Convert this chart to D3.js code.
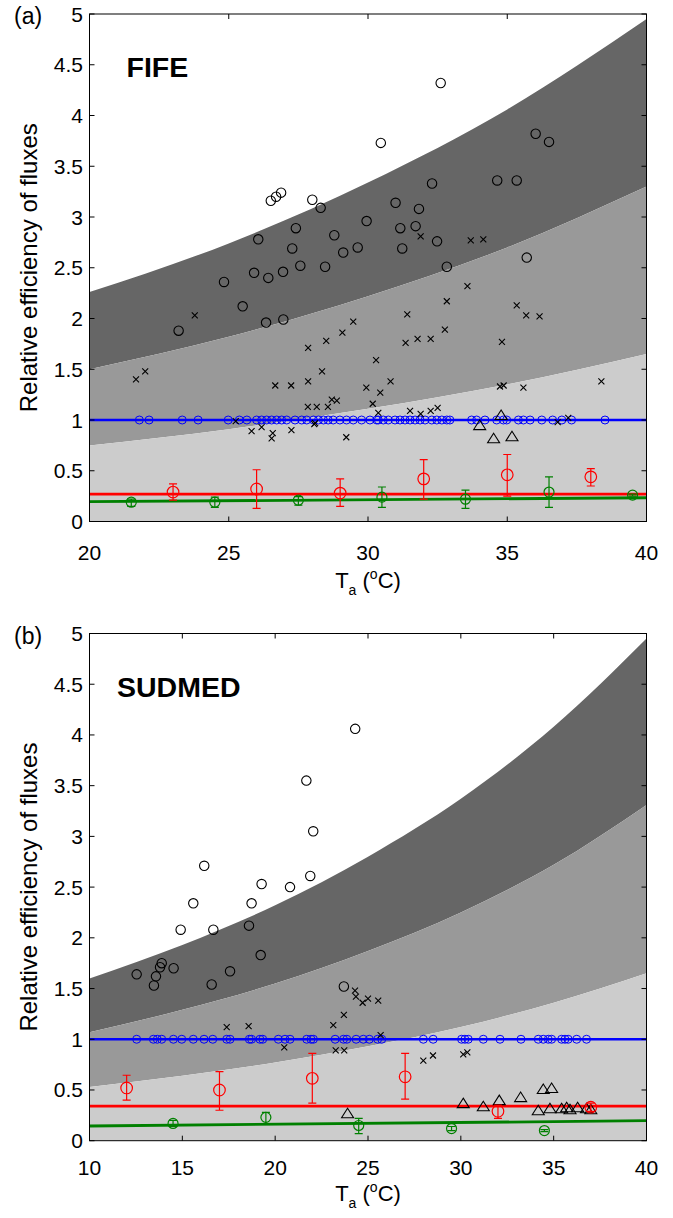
<!DOCTYPE html>
<html><head><meta charset="utf-8">
<script src="https://cdn.jsdelivr.net/npm/d3@7"></script>
<style>body{margin:0;background:#fff}svg{display:block}text{font-family:"Liberation Sans",Arial,Helvetica,sans-serif}</style>
</head><body><svg id="c" width="673" height="1218"></svg>
<script>
// ---------- Panel (a) FIFE ----------
const bandT_a = [20, 25, 30, 35, 40];
const bandLow_a = [0.75, 0.91, 1.11, 1.35, 1.65];
const bandMid_a = [1.50, 1.82, 2.22, 2.70, 3.30];
const bandHigh_a = [2.26, 2.74, 3.34, 4.06, 4.95];
const blackCircles_a = [[23.20,1.88],[24.83,2.36],[25.50,2.12],[25.91,2.45],[26.06,2.78],[26.34,1.96],[26.42,2.40],[26.51,3.16],[26.70,3.20],[26.88,3.24],[26.95,2.46],[26.96,1.99],[27.28,2.69],[27.41,2.89],[27.57,2.52],[28.00,3.17],[28.30,3.09],[28.46,2.51],[28.79,2.82],[29.11,2.65],[29.63,2.70],[29.95,2.96],[30.46,3.73],[30.99,3.14],[31.16,2.89],[31.23,2.69],[31.71,2.91],[31.83,3.08],[32.30,3.33],[32.48,2.76],[32.61,4.32],[32.83,2.51],[34.64,3.36],[35.34,3.36],[35.70,2.60],[36.02,3.82],[36.50,3.74]];
const crosses_a = [[21.67,1.40],[22.00,1.48],[23.78,2.03],[25.25,0.99],[25.82,0.89],[26.18,0.93],[26.54,0.82],[26.58,0.87],[26.67,1.34],[27.24,1.34],[27.25,0.90],[27.84,1.13],[27.85,1.38],[27.85,1.71],[28.07,0.96],[28.10,0.97],[28.16,1.13],[28.35,1.48],[28.50,1.78],[28.56,1.13],[28.70,1.20],[28.88,1.19],[29.08,1.86],[29.22,0.83],[29.47,1.97],[29.94,1.32],[30.17,1.16],[30.29,1.59],[30.44,1.27],[30.37,1.07],[30.81,1.38],[31.35,1.76],[31.41,2.04],[31.51,1.09],[31.78,1.80],[31.89,1.06],[31.89,2.81],[32.25,1.80],[32.25,1.09],[32.50,1.12],[32.76,1.89],[32.83,2.17],[33.57,2.32],[33.69,2.77],[34.14,2.78],[34.74,1.33],[34.81,1.77],[34.87,1.34],[35.34,2.13],[35.58,1.32],[35.68,2.03],[36.16,2.02],[36.81,0.98],[37.19,1.02],[38.38,1.38]];
const triangles_a = [[34.01,0.95],[34.78,1.05],[34.51,0.82],[35.17,0.84]];
const blueT_a = [21.79,22.14,23.33,23.90,24.98,25.38,25.65,26.00,26.18,26.36,26.54,26.72,26.90,27.08,27.38,27.62,27.80,28.04,28.22,28.40,28.57,28.75,28.99,29.23,29.47,29.77,30.07,30.31,30.37,30.55,30.73,30.97,31.15,31.33,31.51,31.69,31.87,32.05,32.29,32.47,32.65,32.83,32.94,33.72,33.90,34.20,34.62,34.86,34.98,35.40,35.58,35.82,36.24,36.63,36.96,37.31,38.51];
const redT_a = [23, 26, 29, 32, 35, 38];
const redV_a = [0.29, 0.32, 0.28, 0.42, 0.46, 0.44];
const redLo_a = [0.21, 0.13, 0.15, 0.22, 0.25, 0.35];
const redHi_a = [0.37, 0.51, 0.42, 0.61, 0.66, 0.52];
const greenT_a = [21.5, 24.5, 27.5, 30.5, 33.5, 36.5, 39.5];
const greenV_a = [0.19, 0.19, 0.21, 0.24, 0.22, 0.29, 0.26];
const greenLo_a = [0.15, 0.14, 0.16, 0.14, 0.13, 0.14, 0.25];
const greenHi_a = [0.22, 0.24, 0.245, 0.34, 0.31, 0.44, 0.27];
const redLine_a = [[20, 0.27], [40, 0.27]];
const greenLine_a = [[20, 0.195], [40, 0.234]];

// ---------- Panel (b) SUDMED ----------
const bandT_b = [10, 15, 20, 25, 30, 35, 40];
const bandLow_b = [0.53, 0.64, 0.77, 0.93, 1.12, 1.36, 1.65];
const bandMid_b = [1.07, 1.29, 1.55, 1.87, 2.25, 2.72, 3.31];
const bandHigh_b = [1.60, 1.93, 2.32, 2.80, 3.37, 4.08, 4.95];
const blackCircles_b = [[12.54,1.64],[13.47,1.53],[13.58,1.62],[13.80,1.71],[13.89,1.75],[14.53,1.70],[14.91,2.08],[15.59,2.34],[16.18,2.71],[16.58,1.54],[16.67,2.08],[17.57,1.67],[18.59,2.12],[18.73,2.34],[19.22,1.83],[19.27,2.53],[20.80,2.50],[21.68,3.55],[21.89,2.61],[22.05,3.05],[23.70,1.52],[24.31,4.06]];
const crosses_b = [[17.39,1.12],[18.57,1.13],[20.49,0.92],[23.13,1.14],[23.26,0.89],[23.70,1.24],[23.72,0.89],[24.30,1.48],[24.35,1.42],[24.71,1.36],[25.00,1.40],[25.55,1.38],[25.68,1.04],[27.98,0.79],[28.50,0.84],[30.13,0.85],[30.35,0.87]];
const triangles_b = [[23.90,0.27],[30.13,0.37],[31.21,0.34],[32.07,0.40],[33.22,0.43],[34.44,0.51],[34.89,0.52],[34.17,0.30],[34.80,0.32],[35.43,0.32],[35.70,0.33],[35.88,0.31],[36.29,0.33],[36.77,0.32],[37.00,0.31]];
const blueT_b = [12.54,13.44,13.65,13.89,14.52,14.97,15.59,16.17,16.64,17.39,17.57,18.61,18.73,19.18,19.33,20.17,20.53,20.80,21.70,21.93,22.06,23.23,23.68,23.86,24.36,24.75,25.07,25.52,25.74,27.98,28.51,30.04,30.22,30.40,31.21,32.11,33.24,34.17,34.44,34.71,34.89,35.43,35.61,35.78,36.24,36.77];
const redT_b = [12, 17, 22, 27, 32, 37];
const redV_b = [0.52, 0.50, 0.615, 0.63, 0.29, 0.33];
const redLo_b = [0.40, 0.30, 0.37, 0.41, 0.22, 0.29];
const redHi_b = [0.645, 0.68, 0.86, 0.86, 0.35, 0.37];
const greenT_b = [14.5, 19.5, 24.5, 29.5, 34.5];
const greenV_b = [0.17, 0.23, 0.15, 0.12, 0.10];
const greenLo_b = [0.14, 0.16, 0.07, 0.10, 0.09];
const greenHi_b = [0.20, 0.28, 0.22, 0.14, 0.11];
const redLine_b = [[10, 0.34], [40, 0.34]];
const greenLine_b = [[10, 0.145], [40, 0.197]];

const yTicks = [0, 0.5, 1, 1.5, 2, 2.5, 3, 3.5, 4, 4.5, 5];
const xTicks_a = [20, 25, 30, 35, 40];
const xTicks_b = [10, 15, 20, 25, 30, 35, 40];

const svg = d3.select("#c");

function panel(o) {
  const x = d3.scaleLinear().domain(o.xDomain).range([89.5, 646.5]);
  const y = d3.scaleLinear().domain([0, 5]).range([o.bottom, o.top]);
  const g = svg.append("g");
  const clipId = "clip" + o.id;
  g.append("clipPath").attr("id", clipId).append("rect")
    .attr("x", 89.5).attr("y", o.top).attr("width", 557).attr("height", o.bottom - o.top);
  const pg = g.append("g").attr("clip-path", `url(#${clipId})`);
  const idx = d3.range(o.bandT.length);
  const area = (lo, hi) => d3.area().curve(d3.curveMonotoneX)
    .x(i => x(o.bandT[i])).y0(i => lo ? y(lo[i]) : y(0)).y1(i => y(hi[i]));
  pg.append("path").attr("d", area(o.bandMid, o.bandHigh)(idx)).attr("fill", "#666666");
  pg.append("path").attr("d", area(o.bandLow, o.bandMid)(idx)).attr("fill", "#999999");
  pg.append("path").attr("d", area(null, o.bandLow)(idx)).attr("fill", "#cccccc");

  const line = d3.line().x(d => x(d[0])).y(d => y(d[1]));
  pg.append("path").attr("d", line([[o.xDomain[0], 1], [o.xDomain[1], 1]])).attr("stroke", "#0000ff").attr("stroke-width", 2.5).attr("fill", "none");
  pg.append("path").attr("d", line(o.redLine)).attr("stroke", "#ff0000").attr("stroke-width", 2.8).attr("fill", "none");
  pg.append("path").attr("d", line(o.greenLine)).attr("stroke", "#008000").attr("stroke-width", 2.8).attr("fill", "none");

  pg.selectAll(".bc").data(o.blueT).join("circle")
    .attr("cx", d => x(d)).attr("cy", y(1)).attr("r", 4)
    .attr("fill", "none").attr("stroke", "#0000ff").attr("stroke-width", 1);
  pg.selectAll(".kc").data(o.circles).join("circle")
    .attr("cx", d => x(d[0])).attr("cy", d => y(d[1])).attr("r", 4.7)
    .attr("fill", "none").attr("stroke", "#000").attr("stroke-width", 1.1);
  pg.selectAll(".kx").data(o.crosses).join("path")
    .attr("d", d => { const cx = x(d[0]), cy = y(d[1]), s = 3; return `M${cx-s},${cy-s}L${cx+s},${cy+s}M${cx-s},${cy+s}L${cx+s},${cy-s}`; })
    .attr("stroke", "#000").attr("stroke-width", 1.1).attr("fill", "none");
  pg.selectAll(".kt").data(o.triangles).join("path")
    .attr("d", d => { const cx = x(d[0]), cy = y(d[1]); return `M${cx},${cy-5}L${cx+6},${cy+4.5}L${cx-6},${cy+4.5}Z`; })
    .attr("stroke", "#000").attr("stroke-width", 1.1).attr("fill", "none");

  function errs(T, V, Lo, Hi, color, r) {
    const d = T.map((t, i) => ({t, v: V[i], lo: Lo[i], hi: Hi[i]}));
    const eg = pg.append("g").attr("stroke", color).attr("fill", "none").attr("stroke-width", 1.2);
    eg.selectAll("path").data(d).join("path")
      .attr("d", e => { const cx = x(e.t), a = y(e.lo), b = y(e.hi); return `M${cx},${a}L${cx},${b}M${cx-4},${a}L${cx+4},${a}M${cx-4},${b}L${cx+4},${b}`; });
    eg.selectAll("circle").data(d).join("circle")
      .attr("cx", e => x(e.t)).attr("cy", e => y(e.v)).attr("r", r);
  }
  errs(o.redT, o.redV, o.redLo, o.redHi, "#ff0000", 5.8);
  errs(o.greenT, o.greenV, o.greenLo, o.greenHi, "#008000", 5);

  g.append("rect").attr("x", 89.5).attr("y", o.top).attr("width", 557).attr("height", o.bottom - o.top)
    .attr("fill", "none").attr("stroke", "#000").attr("stroke-width", 1);
  const tk = g.append("g").attr("stroke", "#000").attr("stroke-width", 1);
  o.xTicks.forEach(t => {
    tk.append("line").attr("x1", x(t)).attr("x2", x(t)).attr("y1", o.bottom).attr("y2", o.bottom - 5);
    tk.append("line").attr("x1", x(t)).attr("x2", x(t)).attr("y1", o.top).attr("y2", o.top + 5);
  });
  yTicks.forEach(t => {
    tk.append("line").attr("x1", 89.5).attr("x2", 94.5).attr("y1", y(t)).attr("y2", y(t));
    tk.append("line").attr("x1", 646.5).attr("x2", 641.5).attr("y1", y(t)).attr("y2", y(t));
  });
  g.selectAll(".xl").data(o.xTicks).join("text")
    .attr("x", d => x(d)).attr("y", o.bottom + o.tickDy).attr("text-anchor", "middle")
    .attr("font-size", 21).text(d => d);
  g.selectAll(".yl").data(yTicks).join("text")
    .attr("x", 83).attr("y", d => y(d) + 7.5).attr("text-anchor", "end")
    .attr("font-size", 21).text(d => d);
  const xl = g.append("text").attr("x", 368).attr("y", o.bottom + o.labelDy).attr("text-anchor", "middle").attr("font-size", 22);
  xl.append("tspan").text("T");
  xl.append("tspan").attr("font-size", 14).attr("dy", 7).text("a");
  xl.append("tspan").attr("dy", -7).text(" (");
  xl.append("tspan").attr("font-size", 14).attr("dy", -9).text("o");
  xl.append("tspan").attr("dy", 9).text("C)");
  g.append("text").attr("transform", `translate(37,${(o.top + o.bottom) / 2}) rotate(-90)`)
    .attr("text-anchor", "middle").attr("font-size", 24).text("Relative efficiency of fluxes");
  g.append("text").attr("x", 14).attr("y", o.top + 10).attr("font-size", 23).text(o.tag);
  g.append("text").attr("x", o.nameX).attr("y", o.top + 63).attr("font-size", 28.5).attr("font-weight", "bold").text(o.name);
}

panel({id: "a", xDomain: [20, 40], top: 14, bottom: 521.5, xTicks: xTicks_a, tag: "(a)", name: "FIFE", nameX: 126.5,
  tickDy: 38, labelDy: 66,
  bandT: bandT_a, bandLow: bandLow_a, bandMid: bandMid_a, bandHigh: bandHigh_a,
  circles: blackCircles_a, crosses: crosses_a, triangles: triangles_a, blueT: blueT_a,
  redT: redT_a, redV: redV_a, redLo: redLo_a, redHi: redHi_a,
  greenT: greenT_a, greenV: greenV_a, greenLo: greenLo_a, greenHi: greenHi_a,
  redLine: redLine_a, greenLine: greenLine_a});
panel({id: "b", xDomain: [10, 40], top: 633.5, bottom: 1140.7, xTicks: xTicks_b, tag: "(b)", name: "SUDMED", nameX: 117,
  tickDy: 34, labelDy: 60,
  bandT: bandT_b, bandLow: bandLow_b, bandMid: bandMid_b, bandHigh: bandHigh_b,
  circles: blackCircles_b, crosses: crosses_b, triangles: triangles_b, blueT: blueT_b,
  redT: redT_b, redV: redV_b, redLo: redLo_b, redHi: redHi_b,
  greenT: greenT_b, greenV: greenV_b, greenLo: greenLo_b, greenHi: greenHi_b,
  redLine: redLine_b, greenLine: greenLine_b});
</script></body></html>
